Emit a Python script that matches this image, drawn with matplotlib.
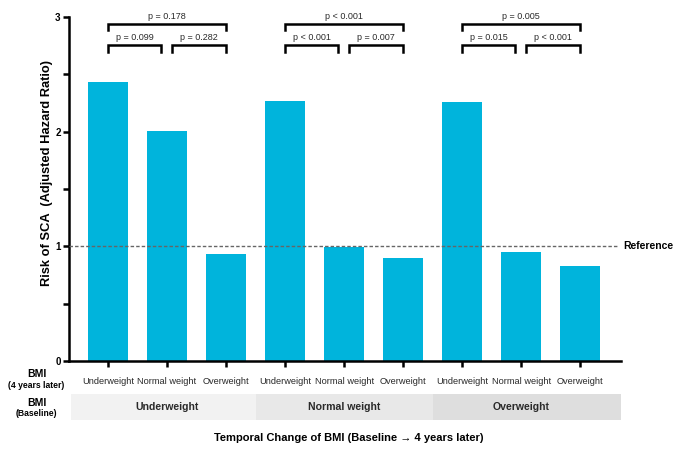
import numpy as np
import matplotlib
matplotlib.use("Agg")
import matplotlib.pyplot as plt
from matplotlib.patches import Rectangle

plt.rcParams['font.family'] = ['Liberation Sans', 'DejaVu Sans']

# Data
later_labels = ["Underweight", "Normal weight", "Overweight"] * 3
baseline_labels = ["Underweight", "Normal weight", "Overweight"]
hazard_ratios = [2.43, 2.005, 0.935, 2.265, 0.995, 0.90, 2.255, 0.95, 0.83]
p_left = ["p = 0.099", "p < 0.001", "p = 0.015"]
p_right = ["p = 0.282", "p = 0.007", "p < 0.001"]
p_outer = ["p = 0.178", "p < 0.001", "p = 0.005"]
band_colors = ["#f2f2f2", "#e8e8e8", "#dedede"]

bar_color = "#00b4dc"
text_color = "#2a2a2a"

fig = plt.figure(figsize=(6.85, 4.54), dpi=100)
ax = fig.add_axes([0.1007, 0.2048, 0.8059, 0.7578])

x = np.arange(len(hazard_ratios))
ax.bar(x, hazard_ratios, width=0.68, color=bar_color, zorder=2)

ax.set_xlim(-0.66, 8.69)
ax.set_ylim(0, 3)
ax.set_yticks([0, 1, 2, 3])
ax.set_yticks([0.5, 1.5, 2.5], minor=True)
ax.set_yticklabels(["0", "1", "2", "3"], fontsize=7, fontweight='bold')
ax.set_xticks(x)
ax.set_xticklabels([])
ax.tick_params(axis='both', which='both', direction='out', length=4, width=1.8)
ax.tick_params(axis='y', pad=2)
for side in ['top', 'right']:
    ax.spines[side].set_visible(False)
ax.spines['left'].set_linewidth(1.8)
ax.spines['bottom'].set_linewidth(1.8)

fig.text(47 / 685, 1 - 173 / 454, "Risk of SCA  (Adjusted Hazard Ratio)", fontsize=9.3,
         fontweight='bold', rotation=90, ha='center', va='center')

# Reference line
ax.plot([-0.66, 8.63], [1, 1], linestyle=(0, (2.5, 1.5)), color='#666666',
        linewidth=1, zorder=3, clip_on=False)
ax.text(8.73, 1, "Reference", fontsize=7.5, fontweight='bold', va='center', ha='left')

# Significance brackets
def bracket(x0, x1, y, leg, label, ly):
    ax.plot([x0, x0, x1, x1], [y - leg, y, y, y - leg], color='black',
            linewidth=1.8, clip_on=False, solid_joinstyle='miter')
    ax.text((x0 + x1) / 2, ly, label, fontsize=6.5, ha='center', va='center', color=text_color)

for g in range(3):
    b = g * 3
    bracket(b, b + 2, 2.94, 0.055, p_outer[g], 3.0)
    bracket(b, b + 0.9, 2.755, 0.06, p_left[g], 2.82)
    bracket(b + 1.08, b + 2, 2.755, 0.06, p_right[g], 2.82)

# 4-years-later labels
for xi, lab in zip(x, later_labels):
    ax.text(xi, -0.06, lab, transform=ax.get_xaxis_transform(), fontsize=6.7,
            ha='center', va='center', color=text_color)

# Baseline band
for g in range(3):
    x0 = g * 3 - 0.5 if g > 0 else -0.63
    x1 = g * 3 + 2.5 if g < 2 else 8.69
    ax.add_patch(Rectangle((x0, -0.095), x1 - x0, -0.075,
                           transform=ax.get_xaxis_transform(), facecolor=band_colors[g],
                           edgecolor='none', clip_on=False))
    ax.text(g * 3 + 1, -0.133, baseline_labels[g], transform=ax.get_xaxis_transform(),
            fontsize=7.6, fontweight='bold', ha='center', va='center', color=text_color)

# Row labels
fig.text(36.5 / 685, 1 - 374 / 454, "BMI", fontsize=7.5, fontweight='bold', ha='center', va='center')
fig.text(36.5 / 685, 1 - 386 / 454, "(4 years later)", fontsize=6.2, fontweight='bold', ha='center', va='center')
fig.text(36.5 / 685, 1 - 403 / 454, "BMI", fontsize=7.5, fontweight='bold', ha='center', va='center')
fig.text(36.5 / 685, 1 - 414 / 454, "(Baseline)", fontsize=6.2, fontweight='bold', ha='center', va='center')

fig.text(349 / 685, 1 - 438 / 454, "Temporal Change of BMI (Baseline \u2192 4 years later)",
         fontsize=8, fontweight='bold', ha='center', va='center')

fig.savefig("out.png", dpi=100)
